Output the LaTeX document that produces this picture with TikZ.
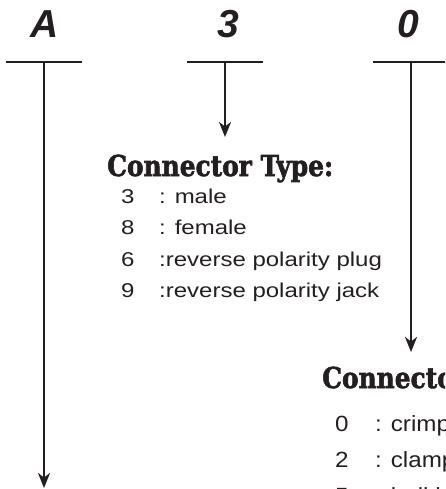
\documentclass[tikz,border=0pt]{standalone}
\usepackage{fontspec}
\setmainfont{Liberation Sans}
\newfontfamily\listfont{Liberation Sans}[FakeStretch=1.2]
\newfontfamily\listfontb{Liberation Sans}[FakeStretch=1.1]
\newfontfamily\headfont{DejaVu Serif}[BoldFeatures={FakeBold=2.2}]
\usetikzlibrary{arrows.meta}
\definecolor{ink}{RGB}{35,31,32}
\newsavebox{\hdbox}
\newcommand{\hsx}{1}
\AtBeginDocument{%
  \sbox{\hdbox}{\headfont\fontsize{28.8}{30}\selectfont\bfseries Connector Type:}%
  \pgfmathsetmacro{\hsx}{226pt/\wd\hdbox}%
  \global\let\hsx\hsx}
\begin{document}
\begin{tikzpicture}[x=1pt,y=-1pt,
  bar/.style={line width=2.6pt, draw=ink},
  stem/.style={line width=2.2pt, draw=ink, -{Stealth[length=15pt,width=12pt,inset=4.5pt]}},
  code/.style={font=\fontsize{39}{39}\selectfont\bfseries\itshape, text=ink, inner sep=0pt, anchor=base},
  item/.style={inner sep=0pt, anchor=base west, text=ink},
  head/.style={item, font=\headfont\fontsize{28.8}{30}\selectfont\bfseries},
  lista/.style={item, font=\listfont\fontsize{20}{22}\selectfont},
  listb/.style={item, font=\listfontb\fontsize{22}{24}\selectfont}]
\useasboundingbox (0,0) rectangle (445,489);
\clip (0,0) rectangle (445,489);
% top code letters
\node[code] (cA) at (45,38) {A};
\node[code] (c3) at (228,38) {3};
\node[code] (c0) at (408,38) {0};
% bars
\coordinate (bAl) at (6,62);   \coordinate (bAr) at (82,62);  \coordinate (bA) at (44,62);
\coordinate (b3l) at (187,62); \coordinate (b3r) at (263,62); \coordinate (b3) at (225,62);
\coordinate (b0l) at (373,62); \coordinate (b0r) at (450,62); \coordinate (b0) at (411,62);
\draw[bar] (bAl) -- (bAr);
\draw[bar] (b3l) -- (b3r);
\draw[bar] (b0l) -- (b0r);
% arrow ends
\coordinate (eA) at (44,488);
\coordinate (e3) at (225,137);
\coordinate (e0) at (411,352);
\draw[stem] (bA) -- (eA);
\draw[stem] (b3) -- (e3);
\draw[stem] (b0) -- (e0);
% connector type block
\node[head] (h1) at (107,176) {\scalebox{\hsx}[1]{Connector Type:}};
\node[lista] (n3) at (121,203) {3};
\node[lista] (t3) at (159,203) {: male};
\node[lista] (n8) at (121,234) {8};
\node[lista] (t8) at (159,234) {: female};
\node[lista] (n6) at (121,266) {6};
\node[lista] (t6) at (159,266) {:reverse polarity plug};
\node[lista] (n9) at (121,297) {9};
\node[lista] (t9) at (159,297) {:reverse polarity jack};
% second block
\node[head] (h2) at (322,388) {\scalebox{\hsx}[1]{Connector}};
\node[listb] (n0) at (335,431) {0};
\node[listb] (t0) at (375,431) {: crimp};
\node[listb] (n2) at (335,467) {2};
\node[listb] (t2) at (375,467) {: clamp};
\node[listb] (n5) at (335,503) {5};
\node[listb] (t5) at (375,503) {: bulkhead};
\end{tikzpicture}
\end{document}
